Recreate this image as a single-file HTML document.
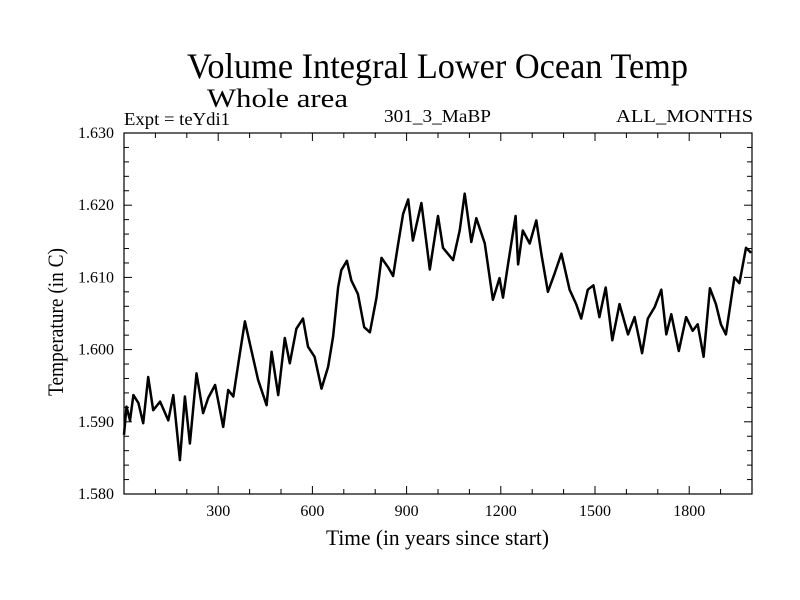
<!DOCTYPE html>
<html><head><meta charset="utf-8"><style>
html,body{margin:0;padding:0;background:#fff;}
svg{display:block;font-family:"Liberation Serif",serif;}
</style></head><body>
<svg id="chart" width="800" height="600" viewBox="0 0 800 600" xmlns="http://www.w3.org/2000/svg">
<rect width="800" height="600" fill="#fff"/>
<text x="187" y="78" font-size="36" textLength="501" lengthAdjust="spacingAndGlyphs">Volume Integral Lower Ocean Temp</text>
<text x="207" y="107" font-size="26" textLength="141" lengthAdjust="spacingAndGlyphs">Whole area</text>
<text x="124" y="125" font-size="18" textLength="106" lengthAdjust="spacingAndGlyphs">Expt = teYdi1</text>
<text x="384" y="122" font-size="18" textLength="107" lengthAdjust="spacingAndGlyphs">301_3_MaBP</text>
<text x="616" y="122" font-size="18" textLength="137" lengthAdjust="spacingAndGlyphs">ALL_MONTHS</text>
<text x="326" y="545" font-size="22" textLength="223" lengthAdjust="spacingAndGlyphs">Time (in years since start)</text>
<text transform="translate(63,396) rotate(-90)" font-size="22" textLength="148" lengthAdjust="spacingAndGlyphs">Temperature (in C)</text>
<g id="axes"></g>
<g id="series"></g>
</svg>
<script>
const years = [0,8,19,30,46,61,77,93,115,141,157,178,194,210,231,252,268,290,316,332,348,369,385,401,427,454,470,491,512,528,549,570,586,607,629,650,666,682,692,710,724,745,765,783,804,820,841,857,873,889,905,920,947,974,1000,1016,1048,1069,1085,1106,1122,1149,1175,1196,1207,1223,1247,1255,1270,1292,1313,1329,1350,1371,1393,1419,1440,1456,1477,1495,1514,1534,1555,1578,1605,1626,1650,1668,1690,1711,1727,1743,1767,1790,1811,1827,1846,1866,1885,1901,1917,1944,1960,1981,1997];
const temps = [1.5882,1.5921,1.5902,1.5937,1.5926,1.5898,1.5962,1.5916,1.5928,1.5902,1.5937,1.5847,1.5935,1.5870,1.5967,1.5912,1.5933,1.5951,1.5893,1.5944,1.5935,1.5995,1.6039,1.6008,1.5958,1.5923,1.5997,1.5937,1.6016,1.5981,1.6029,1.6043,1.6004,1.5990,1.5946,1.5976,1.6018,1.6086,1.6110,1.6123,1.6096,1.6077,1.6031,1.6024,1.6072,1.6127,1.6114,1.6102,1.6146,1.6188,1.6208,1.6151,1.6203,1.6111,1.6185,1.6141,1.6124,1.6165,1.6216,1.6149,1.6182,1.6147,1.6069,1.6099,1.6072,1.6118,1.6185,1.6118,1.6165,1.6147,1.6179,1.6133,1.6080,1.6105,1.6133,1.6083,1.6063,1.6043,1.6083,1.6089,1.6045,1.6086,1.6013,1.6063,1.6021,1.6045,1.5995,1.6043,1.6059,1.6083,1.6021,1.6049,1.5998,1.6045,1.6026,1.6035,1.5990,1.6085,1.6063,1.6035,1.6021,1.6100,1.6092,1.6141,1.6134];
const xTickLabels = ["300","600","900","1200","1500","1800"];
const xTickValues = [300,600,900,1200,1500,1800];
const yTickLabels = ["1.580","1.590","1.600","1.610","1.620","1.630"];
const yTickValues = [1.58,1.59,1.60,1.61,1.62,1.63];

const L=124,R=752,T=133,B=494;
const xMin=0,xMax=2000,yMin=1.58,yMax=1.63;
const sx=v=>L+(v-xMin)/(xMax-xMin)*(R-L);
const sy=v=>B-(v-yMin)/(yMax-yMin)*(B-T);
const NS="http://www.w3.org/2000/svg";
const axes=document.getElementById('axes');
const series=document.getElementById('series');
function mk(tag,attrs,parent){const e=document.createElementNS(NS,tag);for(const k in attrs)e.setAttribute(k,attrs[k]);parent.appendChild(e);return e;}

const frame=mk('rect',{x:L,y:T,width:R-L,height:B-T,fill:'none',stroke:'#000','stroke-width':1.2},axes);



for(let v=100;v<2000;v+=100){
  const major=v%300===0; const len=major?8:5; const x=sx(v);
  const t1=mk('line',{x1:x,y1:B,x2:x,y2:B-len,stroke:'#000','stroke-width':1},axes);
  
  
  const t2=mk('line',{x1:x,y1:T,x2:x,y2:T+len,stroke:'#000','stroke-width':1},axes);
  
  
}
for(let i=1;i<25;i++){
  const v=yMin+i*0.002; const major=Math.abs(v*100-Math.round(v*100))<1e-6; const len=major?8:5; const y=sy(v);
  const t1=mk('line',{x1:L,y1:y,x2:L+len,y2:y,stroke:'#000','stroke-width':1},axes);
  
  
  const t2=mk('line',{x1:R,y1:y,x2:R-len,y2:y,stroke:'#000','stroke-width':1},axes);
  
  
}
xTickLabels.forEach((s,i)=>{
  const t=mk('text',{x:sx(xTickValues[i]),y:B+22,'font-size':16,'text-anchor':'middle'},axes);
  t.textContent=s;
  
  
});
yTickLabels.forEach((s,i)=>{
  const t=mk('text',{x:L-10,y:sy(yTickValues[i])+5,'font-size':16,'text-anchor':'end'},axes);
  t.textContent=s;
  
  
});
const d=years.map((yv,i)=>(i?'L':'M')+sx(yv).toFixed(1)+','+sy(temps[i]).toFixed(1)).join('');
const line=mk('path',{d:d,fill:'none',stroke:'#000','stroke-width':2.5,'stroke-linejoin':'round'},series);


</script>
</body></html>
